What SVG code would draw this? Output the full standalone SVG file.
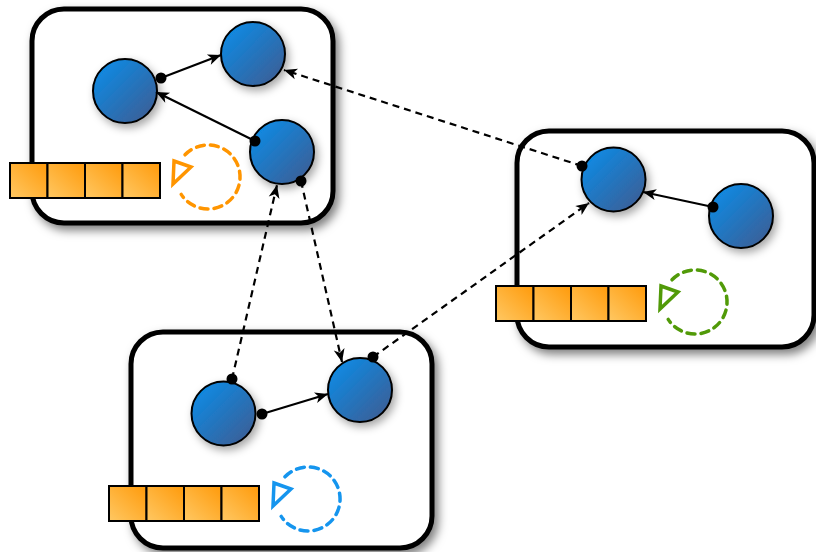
<svg xmlns="http://www.w3.org/2000/svg" width="816" height="552" viewBox="0 0 816 552">
<defs>
<filter id="sh" x="-20%" y="-20%" width="140%" height="140%">
<feDropShadow dx="4" dy="5" stdDeviation="5" flood-color="#000" flood-opacity="0.5"/>
</filter>
<filter id="shc" x="-50%" y="-50%" width="200%" height="200%">
<feDropShadow dx="3" dy="4" stdDeviation="4" flood-color="#000" flood-opacity="0.35"/>
</filter>
<linearGradient id="gc" x1="0" y1="0" x2="1" y2="1">
<stop offset="0" stop-color="#0790EE"/>
<stop offset="1" stop-color="#415A8E"/>
</linearGradient>
<linearGradient id="gq" x1="1" y1="0" x2="0" y2="1">
<stop offset="0" stop-color="#FF9A0A"/>
<stop offset="1" stop-color="#FFC863"/>
</linearGradient>
<marker id="ah" markerUnits="userSpaceOnUse" markerWidth="14" markerHeight="11" refX="13" refY="5.5" orient="auto" overflow="visible">
<path d="M0,0 L13,5.5 L0,11 L3.5,5.5 z" fill="#000"/>
</marker>
<style>
.box{fill:#fff;stroke:#000;stroke-width:5}
.node{fill:url(#gc);stroke:#000;stroke-width:2}
.cell{fill:url(#gq);stroke:#000;stroke-width:2}
.solid{stroke:#000;stroke-width:2.2;fill:none;marker-end:url(#ah)}
.dash{stroke:#000;stroke-width:2.2;fill:none;stroke-dasharray:7,5;marker-end:url(#ah)}
.dot{fill:#000}
.loop{fill:none;stroke-width:3.5;stroke-dasharray:8,6;stroke-linecap:round}
.tri{fill:none;stroke-width:3.5;stroke-linejoin:miter}
</style>
</defs>
<g id="box1">
<rect class="box" x="32" y="9" width="301" height="214" rx="32" filter="url(#sh)"/>
</g>
<g id="box2">
<rect class="box" x="517" y="131" width="297" height="216" rx="32" filter="url(#sh)"/>
</g>
<g id="box3">
<rect class="box" x="131" y="332" width="301" height="216" rx="32" filter="url(#sh)"/>
</g>
<g id="queue1">
<rect class="cell" x="10" y="163" width="37.5" height="35"/>
<rect class="cell" x="47.5" y="163" width="37.5" height="35"/>
<rect class="cell" x="85" y="163" width="37.5" height="35"/>
<rect class="cell" x="122.5" y="163" width="37.5" height="35"/>
</g>
<g id="queue2">
<rect class="cell" x="496" y="286" width="37.5" height="35"/>
<rect class="cell" x="533.5" y="286" width="37.5" height="35"/>
<rect class="cell" x="571" y="286" width="37.5" height="35"/>
<rect class="cell" x="608.5" y="286" width="37.5" height="35"/>
</g>
<g id="queue3">
<rect class="cell" x="109" y="486" width="37.5" height="35"/>
<rect class="cell" x="146.5" y="486" width="37.5" height="35"/>
<rect class="cell" x="184" y="486" width="37.5" height="35"/>
<rect class="cell" x="221.5" y="486" width="37.5" height="35"/>
</g>
<g id="loop1" stroke="#FF9500">
<path class="loop" d="M185,154.8 A32,32 0 1 1 181.2,194.4"/>
<polygon class="tri" points="174,161 191,167 173,184"/>
</g>
<g id="loop2" stroke="#519A08">
<path class="loop" d="M672,279.8 A32,32 0 1 1 668.2,319.4"/>
<polygon class="tri" points="661,286 678,292 660,309"/>
</g>
<g id="loop3" stroke="#1595EE">
<path class="loop" d="M285,476.8 A32,32 0 1 1 281.2,516.4"/>
<polygon class="tri" points="274,483 291,489 273,506"/>
</g>
<g id="nodeA"><circle class="node" cx="125" cy="91" r="32" filter="url(#shc)"/></g>
<g id="nodeB"><circle class="node" cx="253" cy="54" r="32" filter="url(#shc)"/></g>
<g id="nodeC"><circle class="node" cx="282" cy="152" r="32" filter="url(#shc)"/></g>
<g id="nodeD"><circle class="node" cx="613.5" cy="179.5" r="32" filter="url(#shc)"/></g>
<g id="nodeE"><circle class="node" cx="741" cy="216" r="32" filter="url(#shc)"/></g>
<g id="nodeF"><circle class="node" cx="223.5" cy="413.5" r="32" filter="url(#shc)"/></g>
<g id="nodeG"><circle class="node" cx="360" cy="390" r="32" filter="url(#shc)"/></g>
<g id="connectors">
<path class="solid" d="M161,78 L221,55"/>
<path class="solid" d="M255,141 L156,92"/>
<path class="solid" d="M713,207 L643,192"/>
<path class="solid" d="M262,414 L328,394"/>
<path class="dash" d="M582,166 L284,70"/>
<path class="dash" d="M373,357 L589,203"/>
<path class="dash" d="M232,379 L277,185"/>
<path class="dash" d="M301,181 L342,362"/>
<circle class="dot" cx="161" cy="78" r="5.5"/>
<circle class="dot" cx="255" cy="141" r="5.5"/>
<circle class="dot" cx="713" cy="207" r="5.5"/>
<circle class="dot" cx="262" cy="414" r="5.5"/>
<circle class="dot" cx="582" cy="166" r="5.5"/>
<circle class="dot" cx="373" cy="357" r="5.5"/>
<circle class="dot" cx="232" cy="379" r="5.5"/>
<circle class="dot" cx="301" cy="181" r="5.5"/>
</g>
</svg>
